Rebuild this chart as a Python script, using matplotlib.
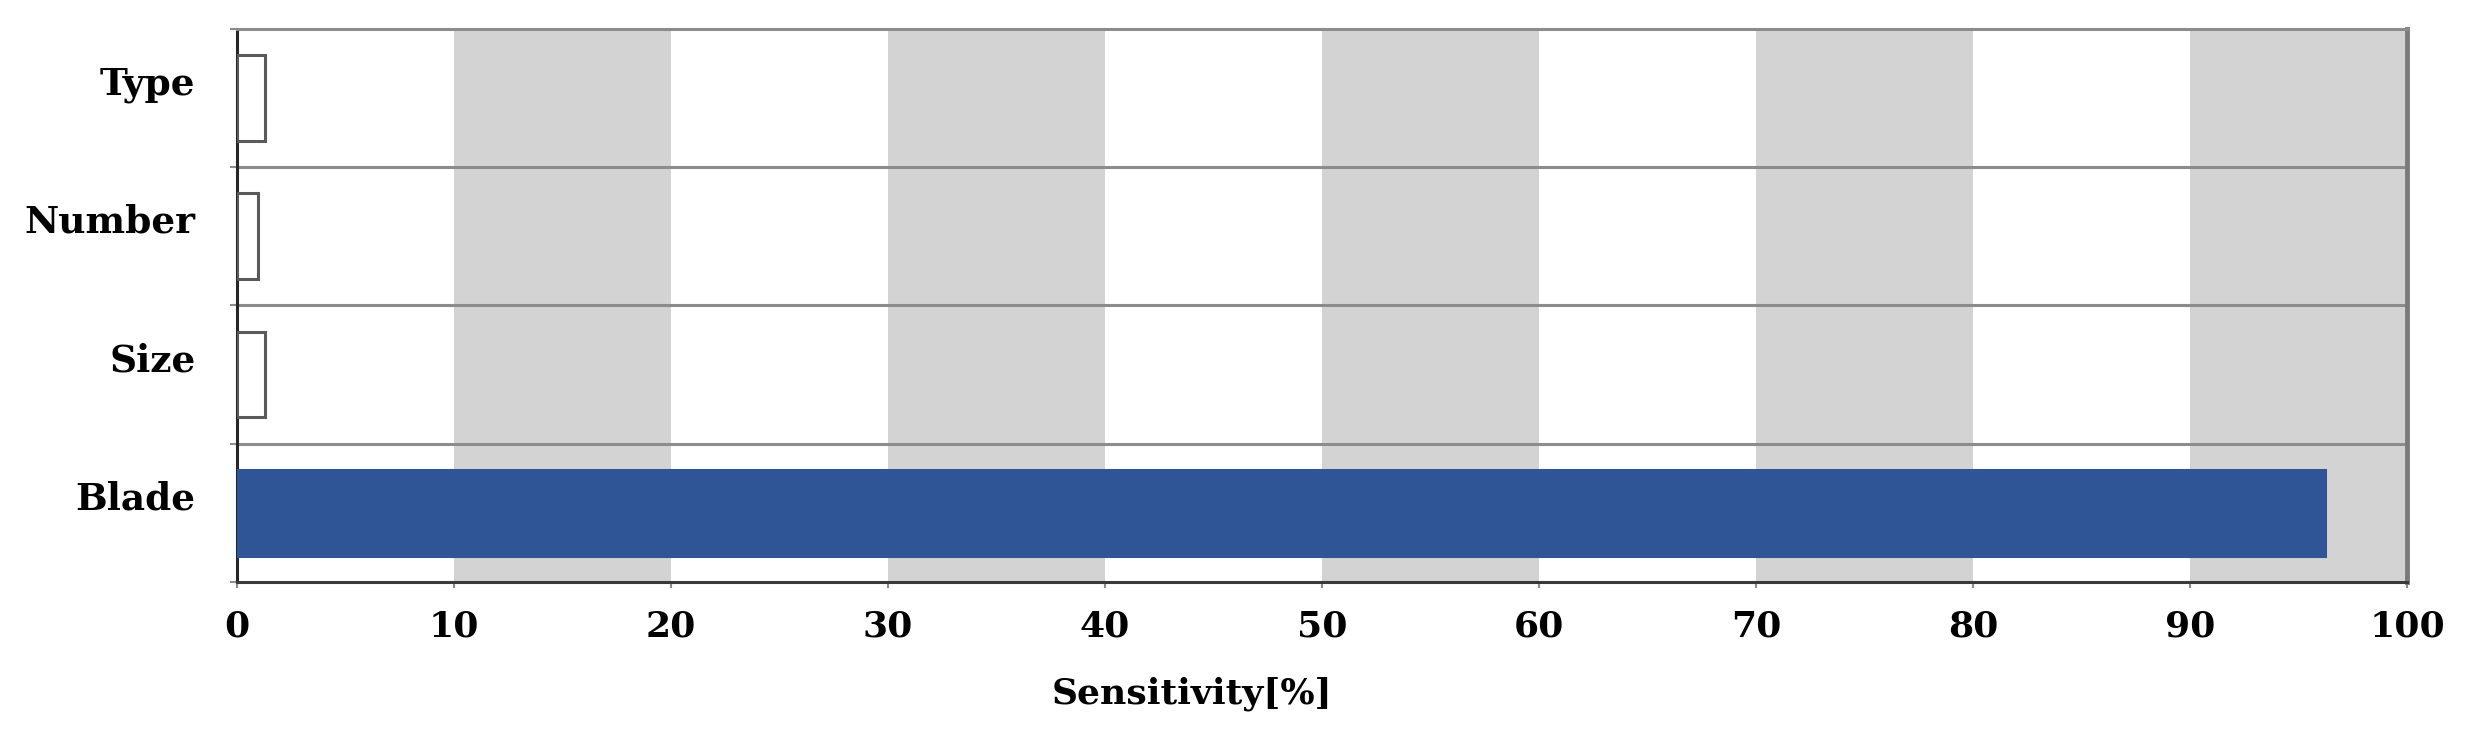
import numpy as np
import matplotlib
matplotlib.use('Agg')
import matplotlib.pyplot as plt

# data
categories = ['Type', 'Number', 'Size', 'Blade']
sensitivity = [1.3, 0.95, 1.3, 96.2]
xticks = list(range(0, 101, 10))

plt.rcParams['font.family'] = 'DejaVu Serif'
plt.rcParams['font.weight'] = 'bold'

fig = plt.figure(figsize=(24.8, 7.35), dpi=100)
ax = fig.add_axes([0.0956, 0.208, 0.875, 0.753])

y = np.arange(len(categories))

# alternating grey bands every other 10%
for x0 in xticks[1:-1:2]:
    ax.axvspan(x0, x0 + 10, color='#d3d3d3', lw=0, zorder=0)

# separator lines between categories
ax.hlines(y[:-1] + 0.5, 0, 100, color='#8c8c8c', lw=2.2, zorder=1)

fills = ['white'] * (len(categories) - 1) + ['#2f5597']
edges = ['#5a5a5a'] * (len(categories) - 1) + ['#2f5597']
ax.barh(y, sensitivity, height=0.62, color=fills, edgecolor=edges,
        linewidth=2.2, zorder=3)

ax.set_xlim(0, 100)
ax.set_ylim(len(categories) - 0.5, -0.5)

ax.set_xticks(xticks)
ax.set_xticklabels([str(v) for v in xticks], fontsize=26, fontweight='bold')
ax.tick_params(axis='x', direction='out', length=4, width=1.5, color='#8c8c8c', pad=16)

ax.set_yticks(y - 0.13)
ax.set_yticklabels(categories, fontsize=27, fontweight='bold')
ax.set_yticks(np.arange(len(categories) + 1) - 0.5, minor=True)
ax.tick_params(axis='y', which='major', length=0, pad=30)
ax.tick_params(axis='y', which='minor', direction='out', length=5, width=1.5, color='#8c8c8c')

ax.set_xlabel('Sensitivity[%]', fontsize=26, fontweight='bold')
ax.xaxis.set_label_coords(0.44, -0.17)

ax.spines['left'].set_color('#262626')
ax.spines['left'].set_linewidth(2.2)
ax.spines['bottom'].set_color('#3a3a3a')
ax.spines['bottom'].set_linewidth(2.2)
ax.spines['top'].set_color('#8c8c8c')
ax.spines['top'].set_linewidth(2.2)
ax.spines['right'].set_color('#7a7a7a')
ax.spines['right'].set_linewidth(3.5)

plt.savefig('out.png', dpi=100)
